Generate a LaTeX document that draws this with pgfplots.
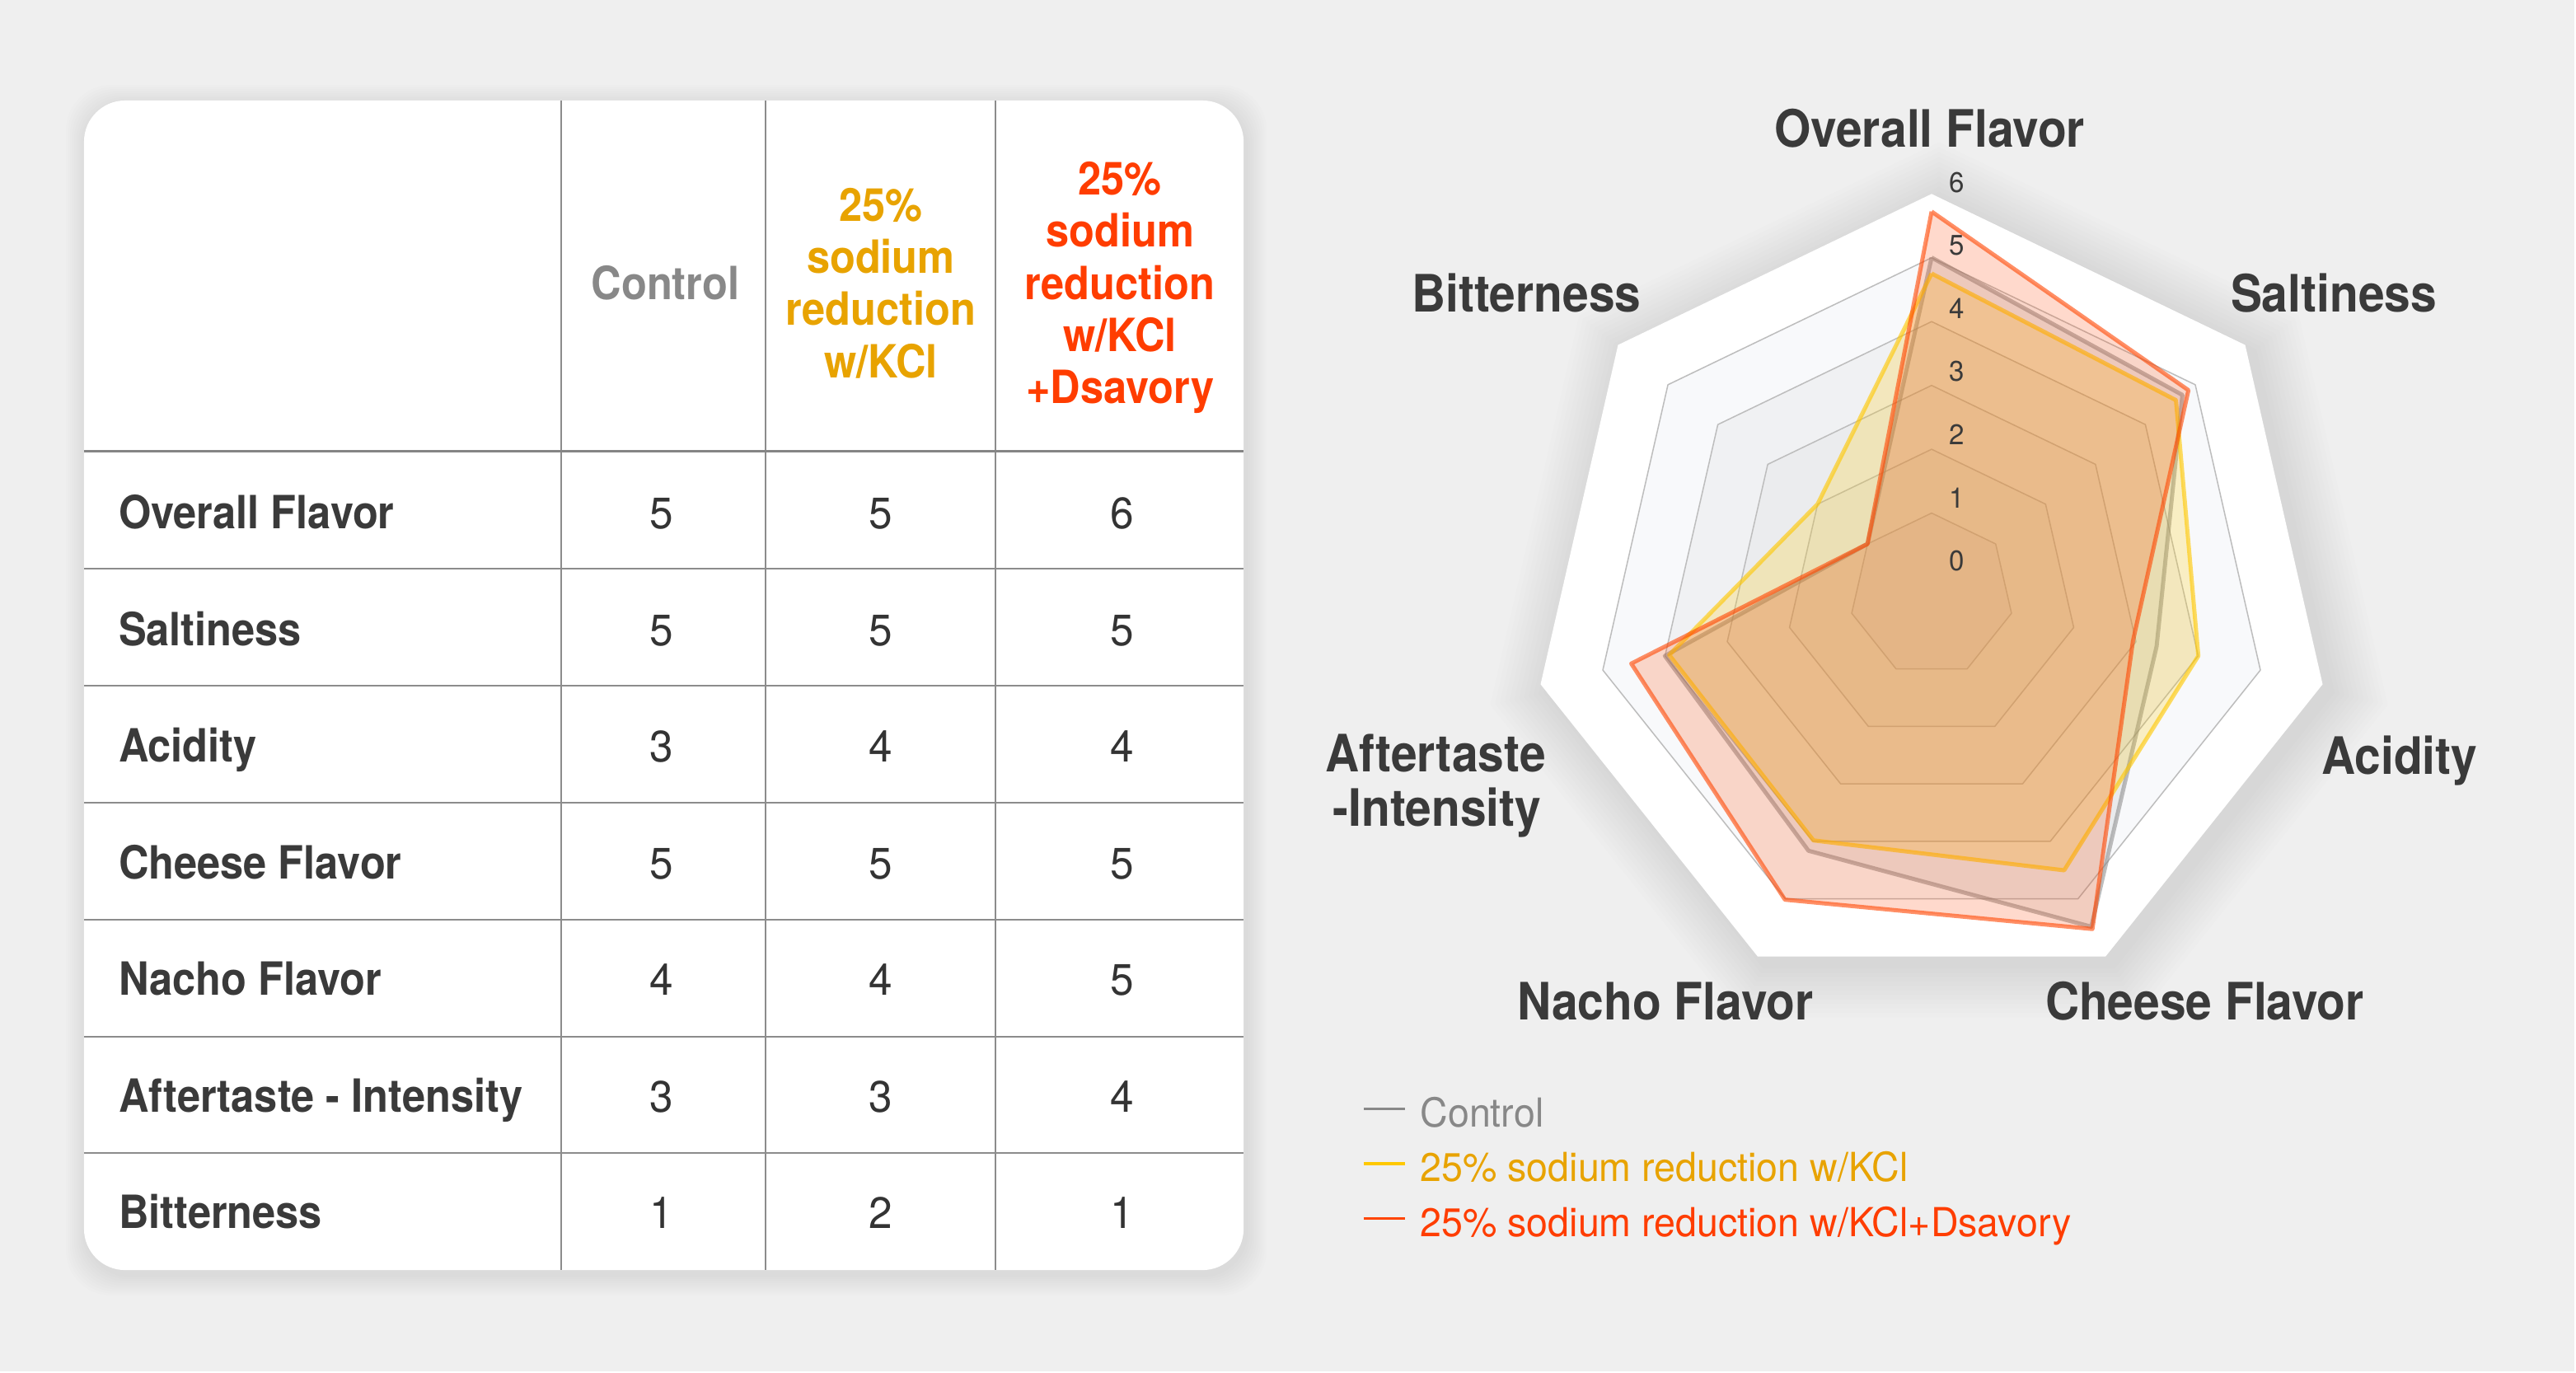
\documentclass[border=0pt]{standalone}
\usepackage{fontspec}
\usepackage{pgfplots}
\pgfplotsset{compat=1.18}
\usepackage{pgfplotstable}
\setmainfont{TeX Gyre Heros}
\newfontfamily\labf{TeX Gyre Heros}[FakeStretch=0.91]
\newfontfamily\regf{TeX Gyre Heros}[FakeStretch=0.96]

\definecolor{bg}{HTML}{EFEFEF}
\definecolor{txt}{HTML}{3A3A3A}
\definecolor{numc}{HTML}{333333}
\definecolor{ctrl}{HTML}{888888}
\definecolor{kcl}{HTML}{FFC800}
\definecolor{kcltxt}{HTML}{E8A300}
\definecolor{dsav}{HTML}{FF4500}
\definecolor{dsavtxt}{HTML}{FF3D00}
\definecolor{gridc}{HTML}{BDBDBD}
\definecolor{tline}{HTML}{8C8C8C}
\definecolor{polarbg}{HTML}{F8F9FB}

% angle (deg), value ; first row repeated to close the polygon
\pgfplotstableread{
a v
90 5.00
38.5714 4.74
-12.8571 3.33
-64.2857 5.48
-115.7143 4.16
-167.1429 4.00
-218.5714 1.00
-270 5.00
}\control
\pgfplotstableread{
a v
90 4.75
38.5714 4.61
-12.8571 4.00
-64.2857 4.50
-115.7143 3.98
-167.1429 3.93
-218.5714 2.00
-270 4.75
}\kcldata
\pgfplotstableread{
a v
90 5.72
38.5714 4.86
-12.8571 2.95
-64.2857 5.52
-115.7143 5.01
-167.1429 4.54
-218.5714 1.00
-270 5.72
}\dsavdata

\newcommand{\hept}[1]{(90:#1) -- (38.5714:#1) -- (-12.8571:#1) -- (-64.2857:#1) -- (-115.7143:#1) -- (-167.1429:#1) -- (141.4286:#1) -- cycle}
\newcommand{\lab}{\labf\bfseries\fontsize{15.8}{19}\selectfont}
\newcommand{\rlab}{\labf\bfseries\fontsize{17.8}{21}\selectfont}
\newcommand{\num}{\regf\fontsize{15.2}{18}\selectfont}

\begin{document}
\begin{tikzpicture}
\useasboundingbox (0,0) rectangle (31.26cm,-16.65cm);
\begin{scope}[x=0.01cm,y=-0.01cm]
  \fill[bg] (0,0) rectangle (3126,1665);
  % card shadow
  \foreach \i in {1,...,10} {
    \pgfmathsetmacro\d{2.5*\i}
    \fill[black, opacity=0.008, rounded corners=0.55cm] (102-\d+3,122-\d+6) rectangle (1510+\d+3,1542+\d+6);
  }
  \fill[white, rounded corners=0.5cm] (102,122) rectangle (1510,1542);
  % table lines
  \foreach \x in {681,930,1209} { \draw[tline, line width=0.02cm] (\x,122) -- (\x,1542); }
  \draw[tline!95!black, line width=0.03cm] (102,547.7) -- (1510,547.7);
  \foreach \y in {690.5,832.2,974.3,1116.5,1258.3,1399.7} { \draw[tline, line width=0.02cm] (102,\y) -- (1510,\y); }
  % header
  \node[anchor=base, text=ctrl, font=\lab, inner sep=0pt] at (808,363.3) {Control};
  \node[anchor=base, text=kcltxt, font=\lab, inner sep=0pt] at (1069.5,268.3) {25\%};
  \node[anchor=base, text=kcltxt, font=\lab, inner sep=0pt] at (1069.5,331.7) {sodium};
  \node[anchor=base, text=kcltxt, font=\lab, inner sep=0pt] at (1069.5,395) {reduction};
  \node[anchor=base, text=kcltxt, font=\lab, inner sep=0pt] at (1069.5,458.3) {w/KCl};
  \node[anchor=base, text=dsavtxt, font=\lab, inner sep=0pt] at (1360,236.7) {25\%};
  \node[anchor=base, text=dsavtxt, font=\lab, inner sep=0pt] at (1360,300) {sodium};
  \node[anchor=base, text=dsavtxt, font=\lab, inner sep=0pt] at (1360,363.3) {reduction};
  \node[anchor=base, text=dsavtxt, font=\lab, inner sep=0pt] at (1360,426.7) {w/KCl};
  \node[anchor=base, text=dsavtxt, font=\lab, inner sep=0pt] at (1360,490) {+Dsavory};
  % rows
  \foreach \name/\a/\b/\c [count=\k from 0] in {Overall Flavor/5/5/6, Saltiness/5/5/5, Acidity/3/4/4, Cheese Flavor/5/5/5, Nacho Flavor/4/4/5, Aftertaste - Intensity/3/3/4, Bitterness/1/2/1} {
    \pgfmathsetmacro\yy{642+141.6*\k}
    \node[anchor=base west, text=txt, font=\lab, inner sep=0pt] at (143.5,\yy) {\name};
    \node[anchor=base, text=numc, font=\num, inner sep=0pt] at (803,\yy) {\a};
    \node[anchor=base, text=numc, font=\num, inner sep=0pt] at (1069,\yy) {\b};
    \node[anchor=base, text=numc, font=\num, inner sep=0pt] at (1363,\yy) {\c};
  }
\end{scope}

% radar background and grid
\begin{scope}[x=0.01cm,y=0.01cm,shift={(23.44cm,-7.22cm)}]
  \foreach \i in {1,...,12} {
    \pgfmathsetmacro\rr{487+6*\i}
    \fill[black, opacity=0.009, shift={(9,-9)}] \hept{\rr};
  }
  \fill[white] \hept{487};
  \fill[polarbg] \hept{409.5};
  \fill[black, opacity=0.03] \hept{332};
  \fill[black, opacity=0.02] \hept{254.5};
  \fill[black, opacity=0.02] \hept{177};
  \fill[black, opacity=0.02] \hept{99.5};
  \foreach \r in {99.5,177,254.5,332,409.5} {
    \draw[gridc, line width=0.015cm, line join=round] \hept{\r};
  }
\end{scope}

\begin{axis}[
  at={(23.44cm,-7.22cm)}, anchor=center,
  x=0.775cm, y=0.775cm,
  xmin=-7, xmax=7, ymin=-7, ymax=7,
  hide axis, clip=false,
  legend cell align=left,
  legend image code/.code={\draw[#1, line width=0.035cm] (0cm,0.1cm) -- (0.5cm,0.1cm);},
  legend style={at={(axis cs:-8.916,-7.858)}, anchor=north west, draw=none, fill=none,
    inner sep=0pt, outer sep=0pt, row sep=0.175cm,
    font=\regf\fontsize{13.8}{16}\selectfont,
    nodes={inner sep=0pt, text height=0.36cm, text depth=0.13cm},
    /tikz/every odd column/.style={column sep=0.17cm}},
]
\addplot[forget plot, draw=ctrl, draw opacity=0.55, fill=ctrl, fill opacity=0.13, line width=0.05cm, line join=round]
  table[x expr={(\thisrow{v}+0.284)*cos(\thisrow{a})}, y expr={(\thisrow{v}+0.284)*sin(\thisrow{a})}] {\control};
\addplot[forget plot, draw=kcl, draw opacity=0.62, fill=kcl, fill opacity=0.22, line width=0.05cm, line join=round]
  table[x expr={(\thisrow{v}+0.284)*cos(\thisrow{a})}, y expr={(\thisrow{v}+0.284)*sin(\thisrow{a})}] {\kcldata};
\addplot[forget plot, draw=dsav, draw opacity=0.6, fill=dsav, fill opacity=0.2, line width=0.05cm, line join=round]
  table[x expr={(\thisrow{v}+0.284)*cos(\thisrow{a})}, y expr={(\thisrow{v}+0.284)*sin(\thisrow{a})}] {\dsavdata};
\addlegendimage{ctrl}
\addlegendentry{\textcolor{ctrl}{Control}}
\addlegendimage{kcl}
\addlegendentry{\textcolor{kcltxt}{25\% sodium reduction w/KCl}}
\addlegendimage{dsav}
\addlegendentry{\textcolor{dsavtxt}{25\% sodium reduction w/KCl+Dsavory}}
\end{axis}

% radial tick labels
\begin{scope}[x=0.01cm,y=0.01cm,shift={(23.44cm,-7.22cm)}]
  \foreach \k in {0,...,6} {
    \pgfmathsetmacro\ty{41.6+76.6*\k}
    \node[text=txt, font=\regf\fontsize{9.8}{12}\selectfont, inner sep=0pt] at (30.5,\ty) {\k};
  }
\end{scope}

% category labels
\begin{scope}[x=0.01cm,y=-0.01cm]
  \node[anchor=base, text=txt, font=\rlab, inner sep=0pt] at (2343,178.6) {Overall Flavor};
  \node[anchor=base, text=txt, font=\rlab, inner sep=0pt] at (2833.6,379.2) {Saltiness};
  \node[anchor=base, text=txt, font=\rlab, inner sep=0pt] at (2913.5,939.7) {Acidity};
  \node[anchor=base, text=txt, font=\rlab, inner sep=0pt] at (2677,1238) {Cheese Flavor};
  \node[anchor=base, text=txt, font=\rlab, inner sep=0pt] at (2022,1238) {Nacho Flavor};
  \node[anchor=base, text=txt, font=\rlab, inner sep=0pt] at (1743,937.3) {Aftertaste};
  \node[anchor=base, text=txt, font=\rlab, inner sep=0pt] at (1745,1003.3) {-Intensity};
  \node[anchor=base, text=txt, font=\rlab, inner sep=0pt] at (1853.5,379.2) {Bitterness};
\end{scope}
\end{tikzpicture}
\end{document}
